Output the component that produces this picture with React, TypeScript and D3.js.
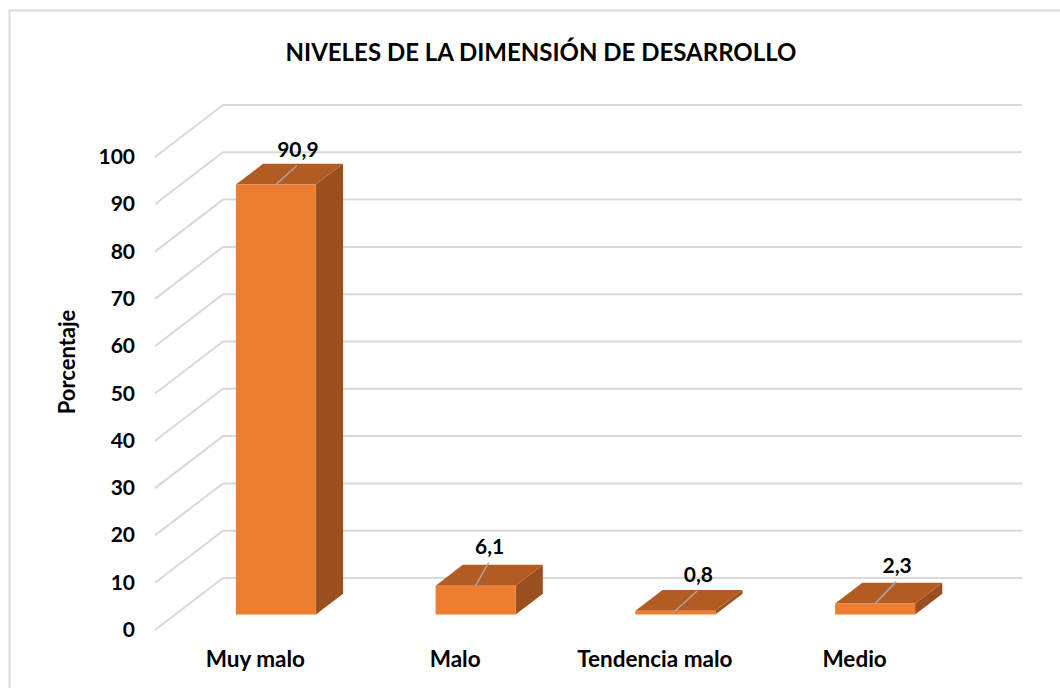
import React from "react";
import * as d3 from "d3";

const categories = ["Muy malo", "Malo", "Tendencia malo", "Medio"];
const values = [90.9, 6.1, 0.8, 2.3];
const valueLabels = ["90,9", "6,1", "0,8", "2,3"];
const ticks = [0, 10, 20, 30, 40, 50, 60, 70, 80, 90, 100];
const title = "NIVELES DE LA DIMENSIÓN DE DESARROLLO";
const yTitle = "Porcentaje";
const leaderDx = [21, 13, 22, 21];
const leaderDy = [-19, -23, -20, -22];

const FONT = "Lato, 'Open Sans', sans-serif";
const GRID = "#d9d9d9";

export default function App() {
  const x = d3.scaleBand<string>().domain(categories).range([155, 954]);
  const y = d3.scaleLinear().domain([0, 100]).range([630, 157]);
  const depthX = 68;
  const depthY = -52;
  const barDepth = 0.4;
  const bw = 80;
  const bdx = depthX * barDepth;
  const bdy = depthY * barDepth;
  const fx = 21;
  const fy = -15.5;
  const line = d3.line();

  return (
    <svg
      width={1060}
      height={688}
      style={{ position: "absolute", left: 0, top: 0, background: "#fff" }}
      fontFamily={FONT}
      fontWeight={700}
    >
      <path d="M9.5,688V10.5H1060" fill="none" stroke={GRID} strokeWidth={2} />
      <text x={541} y={61} textAnchor="middle" fontSize={24} fill="#000">
        {title}
      </text>

      {ticks.map((t) => (
        <g key={t}>
          <path
            d={line([
              [155, y(t)],
              [155 + depthX, y(t) + depthY],
              [155 + 799 + depthX, y(t) + depthY],
            ]) as string}
            fill="none"
            stroke={GRID}
            strokeWidth={2}
          />
          <text x={135} y={y(t) + 7} textAnchor="end" fontSize={21} fill="#000">
            {t}
          </text>
        </g>
      ))}

      <text
        transform="translate(75,362) rotate(-90)"
        textAnchor="middle"
        fontSize={22}
        fill="#000"
      >
        {yTitle}
      </text>

      {categories.map((c, i) => {
        const cx = (x(c) as number) + x.bandwidth() / 2;
        const left = cx - bw / 2 + fx;
        const right = left + bw;
        const base = y(0) + fy;
        const top = base - (y(0) - y(values[i]));
        const face = (pts: [number, number][], fill: string) => (
          <path d={(line(pts) as string) + "Z"} fill={fill} />
        );
        const startX = cx + fx;
        const tipX = startX + leaderDx[i];
        const tipY = top + leaderDy[i];
        return (
          <g key={c}>
            {face(
              [
                [right, top],
                [right + bdx, top + bdy],
                [right + bdx, base + bdy],
                [right, base],
              ],
              "#9c4f1e"
            )}
            {face(
              [
                [left, top],
                [left + bdx, top + bdy],
                [right + bdx, top + bdy],
                [right, top],
              ],
              "#b25c23"
            )}
            {face(
              [
                [left, top],
                [right, top],
                [right, base],
                [left, base],
              ],
              "#ed7d31"
            )}
            <path
              d={line([
                [startX, top],
                [tipX, tipY],
              ]) as string}
              stroke="#a6a6a6"
              strokeWidth={1.5}
              fill="none"
            />
            <text
              x={tipX + 1}
              y={tipY - 9}
              textAnchor="middle"
              fontSize={21}
              fill="#000"
            >
              {valueLabels[i]}
            </text>
            <text x={cx + 0.5} y={667} textAnchor="middle" fontSize={22.5} fill="#000">
              {c}
            </text>
          </g>
        );
      })}
    </svg>
  );
}
